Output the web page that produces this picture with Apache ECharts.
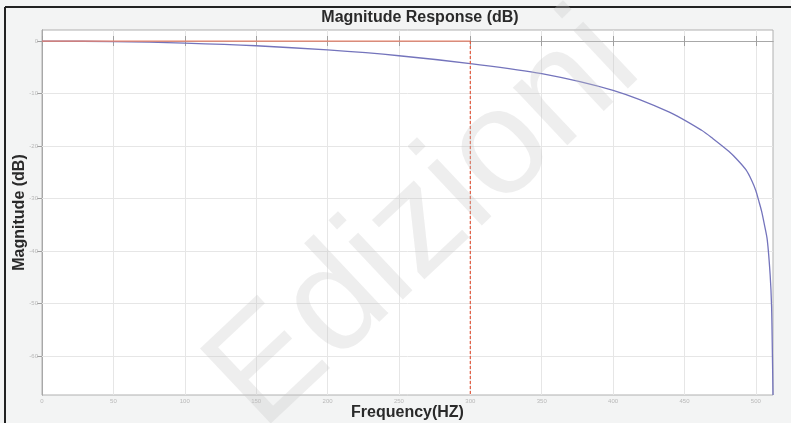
<!DOCTYPE html>
<html>
<head>
<meta charset="utf-8">
<script src="https://cdn.jsdelivr.net/npm/echarts@6/dist/echarts.min.js"></script>
<style>
html,body{margin:0;padding:0;background:#f3f4f4;}
#c{width:791px;height:423px;}
</style>
</head>
<body>
<div id="c"></div>
<script>
// Data
var freqHz = [0, 50, 100, 150, 200, 250, 300, 350, 400, 439, 462, 470, 481, 487, 493, 497, 500, 502, 504, 506, 508, 510, 511, 511.6, 512];
var magDb  = [0, -0.1, -0.4, -0.9, -1.7, -2.8, -4.3, -6.2, -9.4, -13.5, -17.0, -18.6, -21.0, -22.6, -24.5, -26.5, -28.5, -30.4, -32.4, -35.0, -37.9, -44.5, -50.5, -60, -67.4];
var passFreq = [0, 300];
var passMag  = [0, 0];
var edgeFreq = [300, 300];
var edgeMag  = [0, -67.4];
var yTicks = [0, -10, -20, -30, -40, -50, -60];
var xTicks = [0, 50, 100, 150, 200, 250, 300, 350, 400, 450, 500];

function pairs(xs, ys) { return xs.map(function (x, i) { return [x, ys[i]]; }); }

var chart = echarts.init(document.getElementById('c'));
var labelStyle = { color: '#b8b8b8', fontSize: 6, fontFamily: 'Liberation Sans' };
var tickStyle = { show: true, inside: true, length: 5, lineStyle: { color: '#a0a0a0' } };
chart.setOption({
  backgroundColor: '#f3f4f4',
  animation: false,
  title: {
    text: 'Magnitude Response (dB)',
    left: 415, top: 5, textAlign: 'center',
    textStyle: { fontFamily: 'Liberation Sans', fontSize: 16, fontWeight: 'bold', color: '#2a2a2a' }
  },
  grid: { left: 42, right: 18, top: 30, bottom: 28, outerBoundsMode: 'none', containLabel: false,
          show: true, backgroundColor: '#ffffff', borderColor: '#b0b0b0', borderWidth: 1 },
  xAxis: [{
    type: 'value', min: 0, max: 512, interval: 50,
    name: 'Frequency(HZ)', nameLocation: 'middle', nameGap: 10, nameMoveOverlap: false,
    nameTextStyle: { fontFamily: 'Liberation Sans', fontSize: 16, fontWeight: 'bold', color: '#2a2a2a' },
    axisLine: { show: true, lineStyle: { color: '#a8a8a8' } },
    axisTick: Object.assign({ customValues: xTicks }, tickStyle),
    axisLabel: Object.assign({ show: true, margin: 3, customValues: xTicks }, labelStyle),
    splitLine: { show: true, lineStyle: { color: '#e6e6e6', width: 1 } }
  }, {
    type: 'value', min: 0, max: 512, position: 'top',
    axisLine: { show: true, lineStyle: { color: '#a8a8a8' } },
    axisTick: Object.assign({ customValues: xTicks }, tickStyle),
    axisLabel: { show: false }, splitLine: { show: false }
  }],
  yAxis: [{
    type: 'value', min: -67.4, max: 2.1,
    name: 'Magnitude (dB)', nameLocation: 'middle', nameGap: 14, nameMoveOverlap: false,
    nameTextStyle: { fontFamily: 'Liberation Sans', fontSize: 16, fontWeight: 'bold', color: '#2a2a2a' },
    axisLine: { show: true, lineStyle: { color: '#a8a8a8' } },
    axisTick: Object.assign({ customValues: yTicks }, tickStyle),
    axisLabel: Object.assign({ show: true, margin: 4, customValues: yTicks }, labelStyle),
    splitLine: { show: false }
  }, {
    type: 'value', min: -67.4, max: 2.1, position: 'right',
    axisLine: { show: true, lineStyle: { color: '#a8a8a8' } },
    axisTick: Object.assign({ customValues: yTicks }, tickStyle),
    axisLabel: { show: false }, splitLine: { show: false }
  }],
  graphic: [
    { type: 'line', shape: { x1: 5, y1: 7, x2: 5, y2: 423 }, style: { stroke: '#222', lineWidth: 2 }, z: 100 },
    { type: 'line', shape: { x1: 5, y1: 7, x2: 791, y2: 7 }, style: { stroke: '#222', lineWidth: 2 }, z: 100 },
    { type: 'text', x: 425, y: 222, rotation: Math.PI * 0.24, z: 100,
      style: { text: 'Edizioni', fontSize: 150, fontFamily: 'Liberation Sans', fill: 'rgba(200,200,200,0.3)', align: 'center', verticalAlign: 'middle' } }
  ],
  series: [{
    type: 'line', data: pairs(freqHz, magDb), xAxisIndex: 0, yAxisIndex: 0,
    smooth: 0.3, showSymbol: false,
    lineStyle: { color: '#7474bc', width: 1.3 },
    markLine: {
      silent: true, symbol: 'none', label: { show: false }, z: 1,
      lineStyle: { color: '#e6e6e6', width: 1, type: 'solid' },
      data: yTicks.slice(1).map(function (v) { return { yAxis: v }; })
    },
    z: 5
  }, {
    type: 'line', data: pairs(passFreq, passMag), xAxisIndex: 0, yAxisIndex: 0,
    showSymbol: false,
    lineStyle: { color: '#e8836c', width: 1.2 },
    z: 6
  }, {
    type: 'line', data: pairs(edgeFreq, edgeMag), xAxisIndex: 0, yAxisIndex: 0,
    showSymbol: false,
    lineStyle: { color: '#e2583c', width: 1.2, type: [3, 2] },
    z: 6
  }]
});
</script>
</body>
</html>
